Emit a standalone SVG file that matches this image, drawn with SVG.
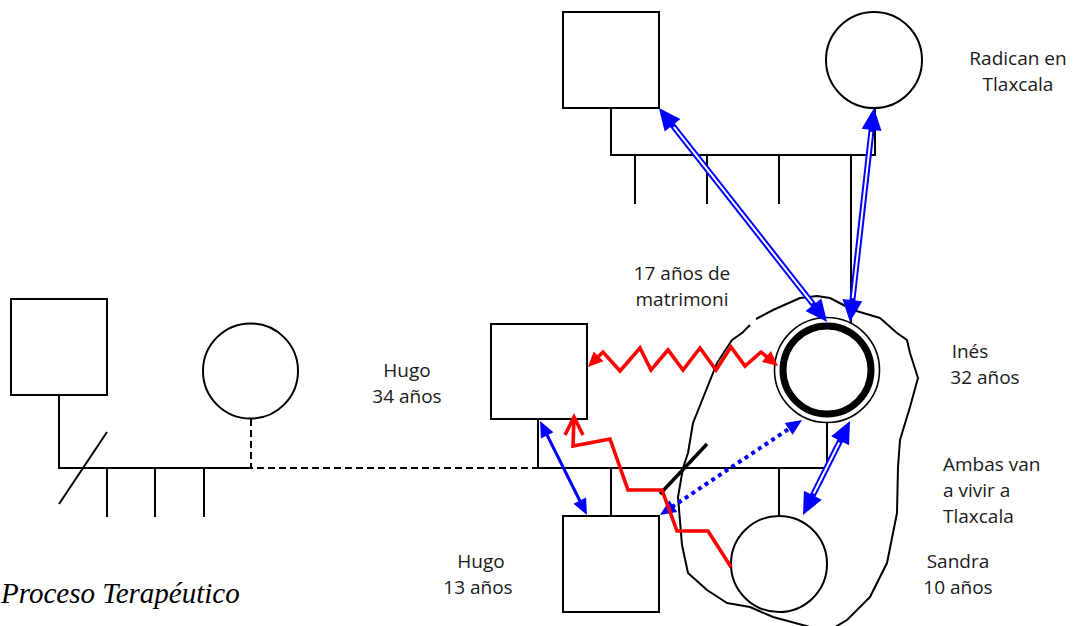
<svg xmlns="http://www.w3.org/2000/svg" width="1082" height="626" viewBox="0 0 1082 626">
<style>
.ln{fill:none;stroke:#000;stroke-width:2}
.dash{fill:none;stroke:#000;stroke-width:2;stroke-dasharray:7 4}
.nd{fill:#fff;stroke:#000;stroke-width:2}
.lbl{font-family:"Open Sans","Noto Sans",sans-serif;font-size:19px;fill:#1a1a1a;text-anchor:middle}
.lbs{font-family:"Open Sans","Noto Sans",sans-serif;font-size:19px;fill:#1a1a1a;text-anchor:start}
.dbl{fill:none;stroke:#0000ff;stroke-width:6;marker-start:url(#bh);marker-end:url(#bh)}
.dblw{fill:none;stroke:#fff;stroke-width:2}
.red{fill:none;stroke:#ff0000;stroke-width:3.6;stroke-linejoin:miter}
</style>
<defs>
<marker id="bh" markerUnits="userSpaceOnUse" markerWidth="22" markerHeight="20" refX="1" refY="10" orient="auto-start-reverse" overflow="visible"><path d="M0,0 L22,10 L0,20 z" fill="#0000ff"/></marker>
<marker id="bs" markerUnits="userSpaceOnUse" markerWidth="16" markerHeight="14" refX="2" refY="7" orient="auto-start-reverse" overflow="visible"><path d="M0,0 L16,7 L0,14 z" fill="#0000ff"/></marker>
<marker id="rh" markerUnits="userSpaceOnUse" markerWidth="15" markerHeight="14" refX="1" refY="7" orient="auto-start-reverse" overflow="visible"><path d="M0,0 L15,7 L0,14 z" fill="#ff0000"/></marker>
</defs>
<rect width="1082" height="626" fill="#fff"/>

<g id="structure">
<path class="ln" d="M611,108 V155 H875 V108"/>
<path class="ln" d="M635,155 V204 M707,155 V204 M779,155 V204 M851,155 V323"/>
<path class="ln" d="M59,395 V468 H251"/>
<path class="dash" d="M251,419 V468 H538"/>
<path class="ln" d="M107,468 V517 M155,468 V517 M204,468 V517"/>
<path class="ln" d="M59,504 L107,432"/>
<path class="ln" d="M538,419 V468 H827 V423"/>
<path class="ln" d="M611,468 V516 M779,468 V516"/>
<path fill="none" stroke="#000" stroke-width="3.5" d="M660,494 L707,444"/>
</g>

<g id="household">
<path fill="none" stroke="#000" stroke-width="2" stroke-linejoin="round" d="M756,319 L773,310 L800,298 L817,296 L830,298 L853,310 L880,318 L897,333 L907,340 L910,353 L918,378 L910,407 L900,440 L898,467 L897,513 L887,563 L870,597 L847,620 L830,630 L810,627 L773,617 L750,607 L727,603 L707,590 L688,573 L682,545 L678,497 L683,468 L688,453 L693,423 L703,398 L717,363 L732,340 L742,333 L750,325"/>
</g>

<g id="node-grandfather"><rect class="nd" x="563" y="12" width="96" height="96"/></g>
<g id="node-grandmother"><circle class="nd" cx="874" cy="60" r="48"/></g>
<g id="node-hugo-father"><rect class="nd" x="11" y="299" width="96" height="96"/></g>
<g id="node-hugo-mother"><circle class="nd" cx="250.5" cy="371" r="47.5"/></g>
<g id="node-hugo"><rect class="nd" x="491" y="324" width="96" height="95"/></g>
<g id="node-ines">
<circle cx="827" cy="370" r="52.5" fill="#fff" stroke="#000" stroke-width="1.6"/>
<circle cx="827" cy="370" r="44" fill="#fff" stroke="#000" stroke-width="7"/>
</g>
<g id="node-hugo13"><rect class="nd" x="563" y="516" width="96" height="96"/></g>
<g id="node-sandra"><circle class="nd" cx="779" cy="564" r="48"/></g>

<g id="connectors">
<line class="dbl" x1="814.1" y1="305.5" x2="671.9" y2="124.5"/>
<line class="dblw" x1="812.2" y1="303.1" x2="673.8" y2="126.9"/>
<line class="dbl" x1="852.3" y1="301.1" x2="871.7" y2="128.9"/>
<line class="dblw" x1="852.7" y1="298.1" x2="871.3" y2="131.9"/>
<line class="dbl" x1="840.6" y1="439.8" x2="812.4" y2="496.2"/>
<line class="dblw" x1="839.3" y1="442.5" x2="813.7" y2="493.5"/>
<line x1="546.3" y1="433.5" x2="580.7" y2="502.5" stroke="#0000ff" stroke-width="3" marker-start="url(#bs)" marker-end="url(#bs)"/>
<line x1="671.6" y1="507.2" x2="790.4" y2="427.8" stroke="#0000ff" stroke-width="4" stroke-dasharray="4 4" marker-start="url(#bs)" marker-end="url(#bs)"/>
<polyline class="red" points="597.9,357.1 603,352 620,371 640,348 651,370 668,350 683,370 700,348 716,370 731,347 745,366 761,352 767.2,357.1" marker-start="url(#rh)" marker-end="url(#rh)"/>
<polyline class="red" points="731,567 708,531 677,531 662,490 628,490 610,439 573,446 574,418"/>
<polyline class="red" points="565,435 574,417 583,435"/>
</g>

<g id="labels">
<text class="lbl" x="1018" y="65">Radican en</text>
<text class="lbl" x="1018" y="91">Tlaxcala</text>
<text class="lbl" x="682" y="280">17 años de</text>
<text class="lbl" x="682" y="306">matrimoni</text>
<text class="lbl" x="407" y="377">Hugo</text>
<text class="lbl" x="407" y="403">34 años</text>
<text class="lbl" x="970" y="358">Inés</text>
<text class="lbl" x="985" y="384">32 años</text>
<text class="lbs" x="943" y="471">Ambas van</text>
<text class="lbs" x="943" y="497">a vivir a</text>
<text class="lbs" x="943" y="523">Tlaxcala</text>
<text class="lbl" x="958" y="568">Sandra</text>
<text class="lbl" x="958" y="594">10 años</text>
<text class="lbl" x="481" y="568">Hugo</text>
<text class="lbl" x="478" y="594">13 años</text>
<text x="1" y="603" font-family="'Liberation Serif','Times New Roman',serif" font-style="italic" font-size="29" fill="#000">Proceso Terapéutico</text>
</g>
</svg>
